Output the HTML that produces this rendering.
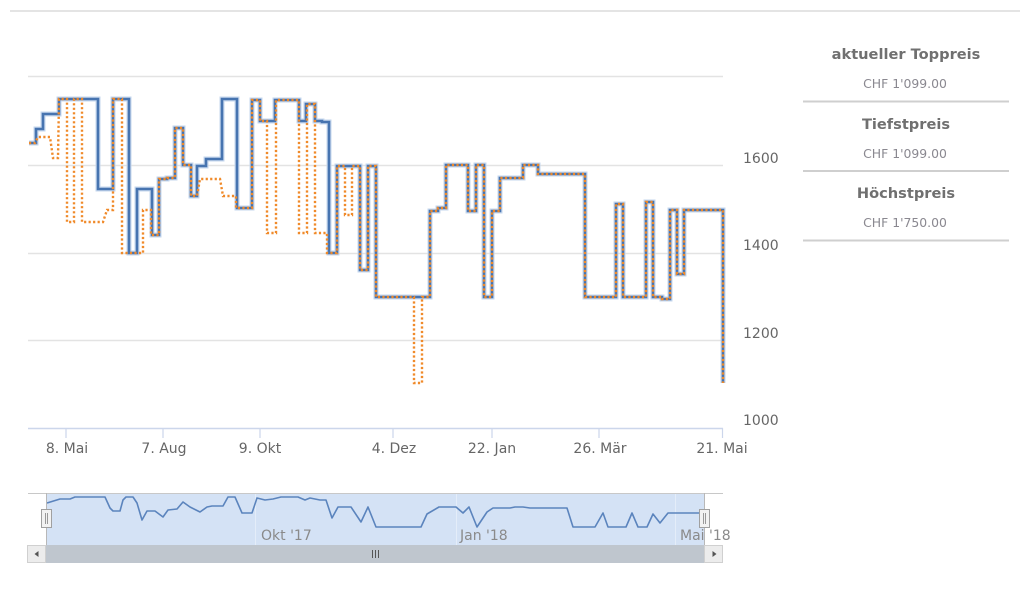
<!DOCTYPE html>
<html><head><meta charset="utf-8"><style>
html,body{margin:0;padding:0;background:#fff;width:1024px;height:602px;overflow:hidden}
svg{display:block}
.yl{font-family:"DejaVu Sans","Liberation Sans",sans-serif;font-size:14px;fill:#666}
.xl{font-family:"DejaVu Sans","Liberation Sans",sans-serif;font-size:14px;fill:#666;text-anchor:middle}
.nl{font-family:"DejaVu Sans","Liberation Sans",sans-serif;font-size:14px;fill:#8a8a8a}
.pt{font-family:"DejaVu Sans","Liberation Sans",sans-serif;font-size:14.6px;font-weight:bold;fill:#707070;text-anchor:middle}
.pv{font-family:"DejaVu Sans","Liberation Sans",sans-serif;font-size:12.4px;fill:#8a8890;text-anchor:middle}
</style></head><body>
<svg width="1024" height="602" viewBox="0 0 1024 602" xmlns="http://www.w3.org/2000/svg">
<rect x="0" y="0" width="1024" height="602" fill="#fff"/>
<rect x="10" y="10" width="1010" height="2" fill="#e4e4e4"/>

<!-- gridlines -->
<g stroke="#e3e3e3" stroke-width="1.5">
<line x1="28" y1="76.5" x2="723" y2="76.5"/>
<line x1="28" y1="165.5" x2="723" y2="165.5"/>
<line x1="28" y1="253.5" x2="723" y2="253.5"/>
<line x1="28" y1="340.5" x2="723" y2="340.5"/>
</g>
<!-- x axis -->
<line x1="28" y1="428.5" x2="723" y2="428.5" stroke="#ccd6eb" stroke-width="1.5"/>
<g stroke="#ccd6eb" stroke-width="1.2">
<line x1="66" y1="428" x2="66" y2="438"/>
<line x1="163" y1="428" x2="163" y2="438"/>
<line x1="260" y1="428" x2="260" y2="438"/>
<line x1="393" y1="428" x2="393" y2="438"/>
<line x1="492" y1="428" x2="492" y2="438"/>
<line x1="599" y1="428" x2="599" y2="438"/>
<line x1="722.5" y1="428" x2="722.5" y2="438"/>
</g>
<text class="xl" x="67" y="453">8. Mai</text>
<text class="xl" x="164" y="453">7. Aug</text>
<text class="xl" x="260" y="453">9. Okt</text>
<text class="xl" x="394" y="453">4. Dez</text>
<text class="xl" x="492" y="453">22. Jan</text>
<text class="xl" x="600" y="453">26. Mär</text>
<text class="xl" x="722" y="453">21. Mai</text>

<text class="yl" x="743" y="163">1600</text>
<text class="yl" x="743" y="250">1400</text>
<text class="yl" x="743" y="338">1200</text>
<text class="yl" x="743" y="425">1000</text>

<!-- blue series -->
<path d="M29,143 H36 V129 H43 V114 H59 V99 H98 V189 H113 V99 H129 V253 H137 V189 H152 V235 H159 V179 H167 V178 H175 V128 H183 V165 H191 V196 H197 V166 H206 V159 H222 V99 H237 V208 H252 V100 H260 V121 H275 V100 H299 V121 H306 V104 H315 V121 H322 V122 H329 V253 H337 V166 H360 V270 H368 V166 H376 V297 H430 V211 H438 V208 H446 V165 H468 V211 H476 V165 H484 V297 H492 V211 H500 V178 H523 V165 H538 V174 H585 V297 H616 V204 H623 V297 H646 V202 H653 V297 H662 V299 H670 V210 H677 V274 H684 V210 H723 V383" fill="none" stroke="#c6d7ee" stroke-width="5" stroke-linejoin="miter"/>
<path d="M29,143 H36 V129 H43 V114 H59 V99 H98 V189 H113 V99 H129 V253 H137 V189 H152 V235 H159 V179 H167 V178 H175 V128 H183 V165 H191 V196 H197 V166 H206 V159 H222 V99 H237 V208 H252 V100 H260 V121 H275 V100 H299 V121 H306 V104 H315 V121 H322 V122 H329 V253 H337 V166 H360 V270 H368 V166 H376 V297 H430 V211 H438 V208 H446 V165 H468 V211 H476 V165 H484 V297 H492 V211 H500 V178 H523 V165 H538 V174 H585 V297 H616 V204 H623 V297 H646 V202 H653 V297 H662 V299 H670 V210 H677 V274 H684 V210 H723 V383" fill="none" stroke="#4774b0" stroke-width="2.6" stroke-linejoin="miter"/>

<!-- orange dotted series -->
<path d="M29,143 H35 L38,137 H50 L53,158 H58 L59,99 H67 V222 H74 V99 H82 V222 H103 L107,210 H113 V99 H122 V253 H143 V210 H151 V235 H159 V179 H167 V178 H175 V128 H183 V165 H191 V196 H197 L200,179 H220 L223,196 H236 V208 H252 V100 H260 V121 H267 V233 H276 V100 H299 V233 H307 V104 H315 V233 H327 V253 H337 V166 H345 V215 H352 V166 H360 V270 H368 V166 H376 V297 H414 V383 H422 V297 H430 V211 H438 V208 H446 V165 H468 V211 H476 V165 H484 V297 H492 V211 H500 V178 H523 V165 H538 V174 H585 V297 H616 V204 H623 V297 H646 V202 H653 V297 H662 V299 H670 V210 H677 V274 H684 V210 H723 V383" fill="none" stroke="#f08a2a" stroke-width="2.4" stroke-dasharray="2.2,2.3" stroke-linejoin="miter"/>

<!-- navigator -->
<rect x="46" y="493" width="658" height="52" fill="#d4e2f5"/>
<g stroke="#e4edf9" stroke-width="1">
<line x1="255.5" y1="493" x2="255.5" y2="545"/>
<line x1="456.5" y1="493" x2="456.5" y2="545"/>
<line x1="675.5" y1="493" x2="675.5" y2="545"/>
</g>
<text class="nl" x="261" y="540">Okt '17</text>
<text class="nl" x="460" y="540">Jan '18</text>
<text class="nl" x="680" y="540">Mai '18</text>
<polyline points="47,503 60,499 70,499 75,497 105,497 110,508 113,511 120,511 123,500 126,497 133,497 137,503 142,520 147,511 155,511 163,517 168,510 177,509 183,502 190,507 200,512 207,507 212,506 223,506 228,497 235,497 242,513 252,513 257,498 265,500 273,499 281,497 298,497 305,500 310,498 320,500 326,500 332,518 338,507 351,507 361,522 368,507 376,527 421,527 427,514 439,507 456,507 463,513 469,507 477,527 487,512 493,508 510,508 515,507 523,507 530,508 567,508 573,527 595,527 603,513 608,527 626,527 632,513 638,527 647,527 653,514 660,523 668,513 703,513" fill="none" stroke="#5b84bd" stroke-width="1.6" stroke-linejoin="round"/>
<line x1="28" y1="493.5" x2="723" y2="493.5" stroke="#c8c8c8" stroke-width="1"/>
<line x1="46.5" y1="493" x2="46.5" y2="545" stroke="#b8b8b8" stroke-width="1"/>
<line x1="704.5" y1="493" x2="704.5" y2="545" stroke="#b8b8b8" stroke-width="1"/>

<!-- scrollbar -->
<rect x="27" y="545" width="696" height="18" fill="#eeeeee"/>
<rect x="46" y="545" width="658" height="18" fill="#bfc6ce"/>
<rect x="27.5" y="545.5" width="18" height="17" fill="#ececec" stroke="#d0d0d0"/>
<rect x="704.5" y="545.5" width="18" height="17" fill="#ececec" stroke="#d0d0d0"/>
<path d="M38.5,551 L34.5,554 L38.5,557 Z" fill="#555"/>
<path d="M712.5,551 L716.5,554 L712.5,557 Z" fill="#555"/>
<g stroke="#555" stroke-width="1">
<line x1="372.5" y1="550" x2="372.5" y2="558"/>
<line x1="375.5" y1="550" x2="375.5" y2="558"/>
<line x1="378.5" y1="550" x2="378.5" y2="558"/>
</g>

<!-- handles -->
<rect x="41.5" y="509.5" width="10" height="18" fill="#f2f2f2" stroke="#a0a0a0"/>
<line x1="45.5" y1="513" x2="45.5" y2="524" stroke="#999"/>
<line x1="47.5" y1="513" x2="47.5" y2="524" stroke="#999"/>
<rect x="699.5" y="509.5" width="10" height="18" fill="#f2f2f2" stroke="#a0a0a0"/>
<line x1="703.5" y1="513" x2="703.5" y2="524" stroke="#999"/>
<line x1="705.5" y1="513" x2="705.5" y2="524" stroke="#999"/>

<!-- right panel -->
<text class="pt" x="906" y="59">aktueller Toppreis</text>
<text class="pv" x="905" y="88">CHF 1'099.00</text>
<rect x="803" y="100.5" width="206" height="2" fill="#cfcfcf"/>
<text class="pt" x="906" y="129">Tiefstpreis</text>
<text class="pv" x="905" y="158">CHF 1'099.00</text>
<rect x="803" y="170" width="206" height="2" fill="#cfcfcf"/>
<text class="pt" x="906" y="198">Höchstpreis</text>
<text class="pv" x="905" y="227">CHF 1'750.00</text>
<rect x="803" y="239.5" width="206" height="2" fill="#cfcfcf"/>
</svg>
</body></html>
